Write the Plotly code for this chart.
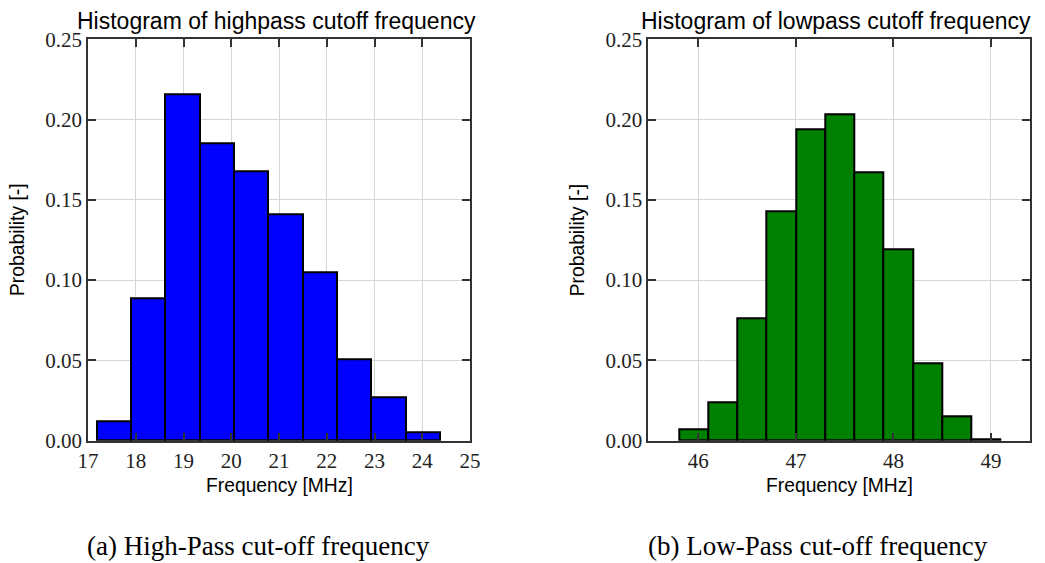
import numpy as np
import plotly.graph_objects as go

# ---- data ----
hp_bin_start = 17.18
hp_bin_width = 0.719
hp_prob = [0.012, 0.089, 0.216, 0.185, 0.168, 0.141, 0.105, 0.051, 0.027, 0.005]

lp_bin_start = 45.8
lp_bin_width = 0.3
lp_prob = [0.007, 0.024, 0.076, 0.143, 0.194, 0.203, 0.167, 0.119, 0.048, 0.015, 0.001]

hp_ticks = [17, 18, 19, 20, 21, 22, 23, 24, 25]
lp_ticks = [46, 47, 48, 49]
y_ticks = [0.0, 0.05, 0.10, 0.15, 0.20, 0.25]

titles = ["Histogram of highpass cutoff frequency", "Histogram of lowpass cutoff frequency"]
captions = ["(a) High-Pass cut-off frequency", "(b) Low-Pass cut-off frequency"]
x_title = "Frequency [MHz]"
y_title = "Probability [-]"

# page body has an 8px margin; size the figure so it fills the 1045x563 window
OFF = 8
W, H = 1045 - OFF, 563 - OFF


def px(x):
    return (x - OFF) / W


def py(y):
    return 1 - (y - OFF) / H


hp_centers = hp_bin_start + hp_bin_width * (np.arange(len(hp_prob)) + 0.5)
lp_centers = lp_bin_start + lp_bin_width * (np.arange(len(lp_prob)) + 0.5)

fig = go.Figure()
fig.add_trace(go.Bar(x=hp_centers, y=hp_prob, width=hp_bin_width,
                     marker=dict(color="#0000FF", line=dict(color="black", width=2)),
                     xaxis="x", yaxis="y", showlegend=False))
fig.add_trace(go.Bar(x=lp_centers, y=lp_prob, width=lp_bin_width,
                     marker=dict(color="#008000", line=dict(color="black", width=2)),
                     xaxis="x2", yaxis="y2", showlegend=False))

tickfont = dict(family="Liberation Serif", size=21, color="#222")
common = dict(showline=True, linecolor="#333", linewidth=1.5, mirror="ticks",
              ticks="inside", ticklen=8, tickwidth=1.5, tickcolor="#333",
              showgrid=True, gridcolor="#d6d6d6", gridwidth=1, zeroline=False,
              tickfont=tickfont, automargin=False)

dom1 = [px(88), px(470)]
dom2 = [px(648.3), px(1030)]
ydom = [py(440.7), py(39.3)]

fig.update_layout(
    width=W, height=H,
    margin=dict(l=0, r=0, t=0, b=0, pad=0),
    paper_bgcolor="white", plot_bgcolor="white",
    bargap=0,
    xaxis=dict(domain=dom1, anchor="y", range=[17, 25], tickvals=hp_ticks, **common),
    yaxis=dict(domain=ydom, anchor="x", range=[0, 0.25], tickvals=y_ticks, tickformat=".2f", **common),
    xaxis2=dict(domain=dom2, anchor="y2", range=[45.487, 49.4], tickvals=lp_ticks, **common),
    yaxis2=dict(domain=ydom, anchor="x2", range=[0, 0.25], tickvals=y_ticks, tickformat=".2f", **common),
)

sans = "Liberation Sans"
ann = []
for (x0, x1), t, c, cx in [((88, 470), titles[0], captions[0], 258),
                           ((648.3, 1030), titles[1], captions[1], 818)]:
    mid = (x0 + x1) / 2
    ann.append(dict(text=t, x=px(mid - 3), y=py(21), xref="paper", yref="paper",
                    xanchor="center", yanchor="middle", showarrow=False,
                    font=dict(family=sans, size=23, color="black")))
    ann.append(dict(text=x_title, x=px(mid), y=py(485), xref="paper", yref="paper",
                    xanchor="center", yanchor="middle", showarrow=False,
                    font=dict(family=sans, size=19.3, color="black")))
    ann.append(dict(text=y_title, x=px(x0 - 70), y=py(240), xref="paper", yref="paper",
                    xanchor="center", yanchor="middle", showarrow=False, textangle=-90,
                    font=dict(family=sans, size=19.3, color="black")))
    ann.append(dict(text=c, x=px(cx), y=py(546), xref="paper", yref="paper",
                    xanchor="center", yanchor="middle", showarrow=False,
                    font=dict(family="Liberation Serif", size=27, color="black")))
fig.update_layout(annotations=ann)

fig.write_html("out.html")
